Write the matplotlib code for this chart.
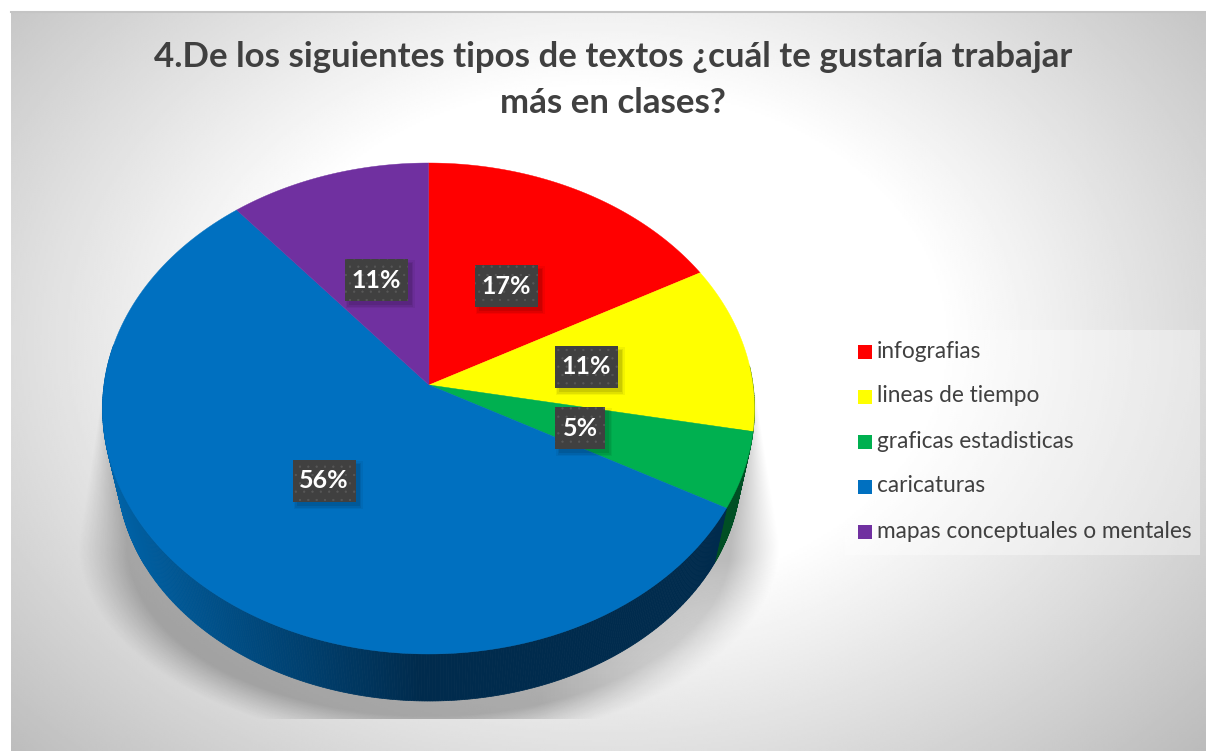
import numpy as np
import matplotlib
matplotlib.use('Agg')
import matplotlib.pyplot as plt
from matplotlib.patches import Rectangle, Polygon

title_lines = ["4.De los siguientes tipos de textos ¿cuál te gustaría trabajar", "más en clases?"]
categories = ["infografias", "lineas de tiempo", "graficas estadisticas", "caricaturas", "mapas conceptuales o mentales"]
values = [17, 11, 5, 56, 11]
labels = ["17%", "11%", "5%", "56%", "11%"]
colors = ["#FF0000", "#FFFF00", "#00B050", "#0070C0", "#7030A0"]
wall_colors = [None, None, "#004F24", None, None]

W, H = 1206, 751
plt.rcParams['font.family'] = ['Lato', 'DejaVu Sans']
plt.rcParams['hatch.linewidth'] = 0.4
fig = plt.figure(figsize=(W/100, H/100), dpi=100, facecolor='white')
ax = fig.add_axes([0, 0, 1, 1])
ax.axis('off')

# background radial gradient
x0, x1, y0, y1 = 11, 1206, 12, 751
yy, xx = np.mgrid[y0:y1:370j, x0:x1:600j]
r = np.sqrt(((xx-600)/760)**2 + ((yy-340)/560)**2)
bg = np.clip(1 - np.clip(r-0.45, 0, 1)*0.42, 0, 1)
ax.imshow(bg, extent=(x0, x1, y1, y0), cmap='gray', vmin=0, vmax=1, aspect='auto', zorder=0, interpolation='bilinear')
ax.plot([x0, x1], [y0, y0], color='#c4c4c4', lw=1.5, zorder=1)

# cast shadow
sy, sx = np.mgrid[385:719:334j, 60:800:740j]
u = np.abs(sx - 429)
rxw = 326 + (sy-385)/160*26
soft = 6 + (sy-385)/160*44
d_up = (rxw - u)/soft
rho = np.sqrt((u/352)**2 + ((sy-545)/200)**2)
d_lo = (1-rho)*352/50
d = np.where(sy < 545, d_up, d_lo)
d = np.clip(d, 0, 1)
a = d**1.15*0.27
fade = 1 - np.clip((sx-540)/190, 0, 1)*np.clip((sy-560)/110, 0, 1)*0.7
rgba = np.zeros(a.shape+(4,))
rgba[..., 3] = a*fade
ax.imshow(rgba, extent=(60, 800, 719, 385), aspect='auto', zorder=1, interpolation='bilinear')
ax.set_xlim(0, W); ax.set_ylim(H, 0)

# ellipses: top face and (perspective-reduced) bottom rim
ax_c, ay_c = 429, 385            # apex of the slices
tc = (428.5, 408.5, 326, 245.5)
bc = (429, 470, 312, 231)

def ell(e, deg):
    t = np.deg2rad(deg)
    return e[0] + e[2]*np.sin(t), e[1] - e[3]*np.cos(t)

def rim_angle(theta):
    """Rim position hit by the ray from the apex at share-angle theta."""
    t = np.deg2rad(theta)
    dx, dy = np.sin(t), -np.cos(t)
    ax0, ay0 = (ax_c-tc[0])/tc[2], (ay_c-tc[1])/tc[3]
    b = dx*ax0 + dy*ay0
    c = ax0**2 + ay0**2 - 1
    s = -b + np.sqrt(b*b - c)
    px, py = ax0 + s*dx, ay0 + s*dy
    return np.degrees(np.arctan2(px, -py)) % 360

cum = np.cumsum([0] + values) / sum(values) * 360
bounds = [0.0] + [rim_angle(c) for c in cum[1:-1]] + [360.0]

# side wall
dark = np.array([0x00, 0x2B, 0x4D])/255
light = np.array([0x00, 0x62, 0xA6])/255
angs = np.linspace(80, 285, 420)
for a0, a1 in zip(angs[:-1], angs[1:]):
    xa, ya = ell(tc, a0); xb, yb = ell(tc, a1)
    xc, yc = ell(bc, a1); xd, yd = ell(bc, a0)
    k = np.clip((420 - xa)/310, 0, 1)
    c = dark*(1-k) + light*k
    mid = (a0+a1)/2
    if mid < bounds[3]:
        c = wall_colors[2]
    ax.add_patch(Polygon([(xa, ya), (xb, yb), (xc, yc), (xd, yd)], closed=True, fc=c, ec=c, lw=0.5, zorder=2))

# top slices
for i, c in enumerate(colors):
    a = np.linspace(bounds[i], bounds[i+1], 160)
    p = [(ax_c, ay_c)] + [ell(tc, v) for v in a]
    ax.add_patch(Polygon(p, closed=True, fc=c, ec=c, lw=0.3, zorder=4))

# data labels
lab_pos = [(506, 286), (586, 367), (580, 428), (324, 481), (376, 280)]
lab_w = [63, 63, 50, 63, 63]
for (lx, ly), t, w in zip(lab_pos, labels, lab_w):
    for g, al in ((3, 0.05), (1.5, 0.07), (0, 0.09)):
        ax.add_patch(Rectangle((lx-w/2+4-g, ly-21+4-g), w+2*g, 42+2*g, fc='#000000', alpha=al, ec='none', zorder=5))
    ax.add_patch(Rectangle((lx-w/2, ly-21), w, 42, fc='#404040', ec='none', zorder=6))
    ax.add_patch(Rectangle((lx-w/2, ly-21), w, 42, fc='none', ec='#585858', hatch='..', lw=0, zorder=6))
    ax.text(lx, ly, t, color='white', fontsize=18, fontweight='bold', ha='center', va='center', zorder=7)

# title
ax.text(613, 57, title_lines[0], fontsize=25.1, fontweight='bold', color='#404040', ha='center', va='center', zorder=7)
ax.text(613, 103, title_lines[1], fontsize=25.1, fontweight='bold', color='#404040', ha='center', va='center', zorder=7)

# legend
ax.add_patch(Rectangle((845, 330), 355, 225, fc='white', alpha=0.35, ec='none', zorder=3))
ly = [352, 397, 442, 487, 532]
for y, c, t in zip(ly, colors, categories):
    ax.add_patch(Rectangle((858, y-7), 14, 14, fc=c, ec='none', zorder=5))
    ax.text(877, y-1, t, fontsize=16.3, color='#404040', ha='left', va='center', zorder=7)

fig.savefig('out.png', dpi=100, facecolor='white')
